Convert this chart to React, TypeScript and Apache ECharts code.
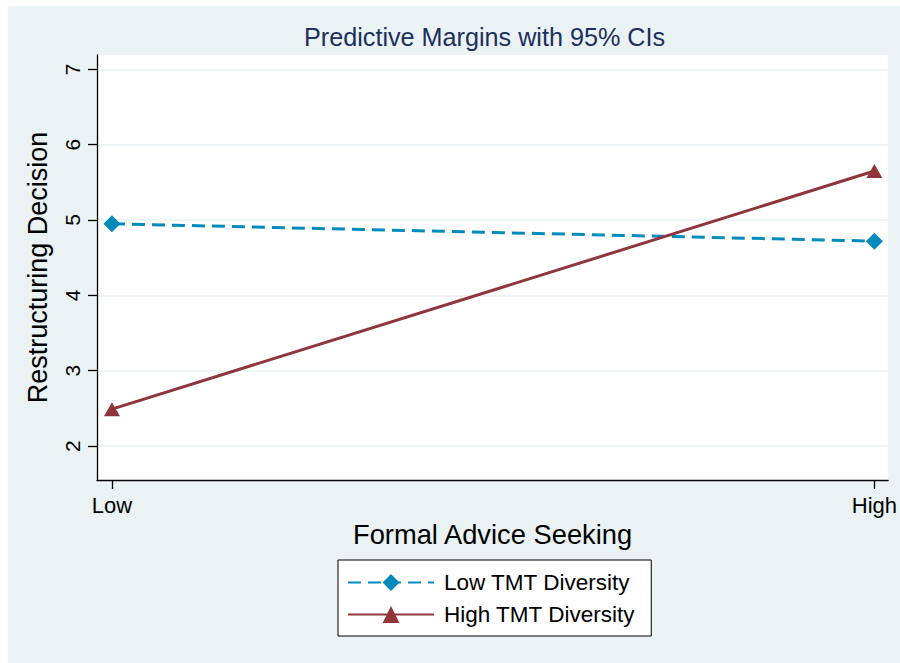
import React, { useEffect, useRef } from "react";
import * as echarts from "echarts";

const categories = ["Low", "High"];
const xPositions = [0, 1];
const lowTMT = [4.95, 4.72];
const highTMT = [2.49, 5.65];
const yTicks = [2, 3, 4, 5, 6, 7];
const titleText = "Predictive Margins with 95% CIs";
const seriesNames = ["Low TMT Diversity", "High TMT Diversity"];

const FONT = "'Liberation Sans', Arial, Helvetica, sans-serif";

export default function App() {
  const ref = useRef<HTMLDivElement>(null);
  useEffect(() => {
    if (!ref.current) return;
    const chart = echarts.init(ref.current, undefined, { renderer: "svg" });
    const lowData = xPositions.map((x, i) => [x, lowTMT[i]]);
    const highData = xPositions.map((x, i) => [x, highTMT[i]]);
    chart.setOption({
      animation: false,
      backgroundColor: "#EAF2F3",
      textStyle: { fontFamily: FONT },
      title: {
        text: titleText,
        left: 296,
        top: 18,
        padding: 0,
        textStyle: { fontFamily: FONT, fontSize: 25.2, fontWeight: "normal", color: "#1c2f5e" },
      },
      grid: {
        left: 89,
        top: 49,
        right: 10,
        bottom: 183,
        show: true,
        backgroundColor: "#ffffff",
        borderWidth: 0,
      },
      xAxis: {
        type: "value",
        min: -0.0196,
        max: 1.018,
        name: "Formal Advice Seeking",
        nameLocation: "middle",
        nameGap: 37,
        nameTextStyle: { fontFamily: FONT, fontSize: 27.3, color: "#000" },
        axisLine: { show: true, onZero: false, lineStyle: { color: "#000", width: 1.3 } },
        axisTick: { show: true, length: 9, lineStyle: { color: "#000", width: 1.3 }, customValues: xPositions },
        axisLabel: {
          customValues: xPositions,
          margin: 14,
          fontFamily: FONT,
          fontSize: 22,
          color: "#000",
          formatter: (v: number) => {
            const i = xPositions.indexOf(Math.round(v));
            return i >= 0 ? categories[i] : "";
          },
        },
        splitLine: { show: false },
      },
      yAxis: {
        type: "value",
        min: 1.55,
        max: 7.19,
        name: "Restructuring Decision",
        nameLocation: "middle",
        nameRotate: 90,
        nameGap: 46,
        nameTextStyle: { fontFamily: FONT, fontSize: 27, color: "#000" },
        axisLine: { show: true, onZero: false, lineStyle: { color: "#000", width: 1.3 } },
        axisTick: { show: true, length: 9, lineStyle: { color: "#000", width: 1.3 }, customValues: yTicks },
        axisLabel: {
          customValues: yTicks,
          rotate: 90,
          margin: 14,
          fontFamily: FONT,
          fontSize: 21,
          color: "#000",
        },
        splitLine: { show: true, lineStyle: { color: "#EAF2F3", width: 1.5 } },
      },
      legend: {
        orient: "vertical",
        left: 330,
        top: 554,
        padding: [11, 16, 10, 9],
        itemWidth: 86,
        itemHeight: 21,
        itemGap: 9,
        backgroundColor: "#ffffff",
        borderColor: "#000",
        borderWidth: 1,
        borderRadius: 0,
        textStyle: { fontFamily: FONT, fontSize: 22.5, color: "#000", padding: [0, 0, 0, 5] },
        data: seriesNames,
      },
      series: [
        {
          name: seriesNames[0],
          type: "line",
          data: lowData,
          symbol: "diamond",
          symbolSize: 17,
          color: "#008BBC",
          itemStyle: { color: "#008BBC" },
          lineStyle: { color: "#008BBC", width: 3, type: [13, 7] },
        },
        {
          name: seriesNames[1],
          type: "line",
          data: highData,
          symbol: "triangle",
          symbolSize: [16, 14],
          color: "#90353B",
          itemStyle: { color: "#90353B" },
          lineStyle: { color: "#90353B", width: 3, type: "solid" },
        },
      ],
    });
    return () => chart.dispose();
  }, []);
  return (
    <div
      ref={ref}
      style={{ position: "absolute", left: 8, top: 6, width: 892, height: 657 }}
    />
  );
}
